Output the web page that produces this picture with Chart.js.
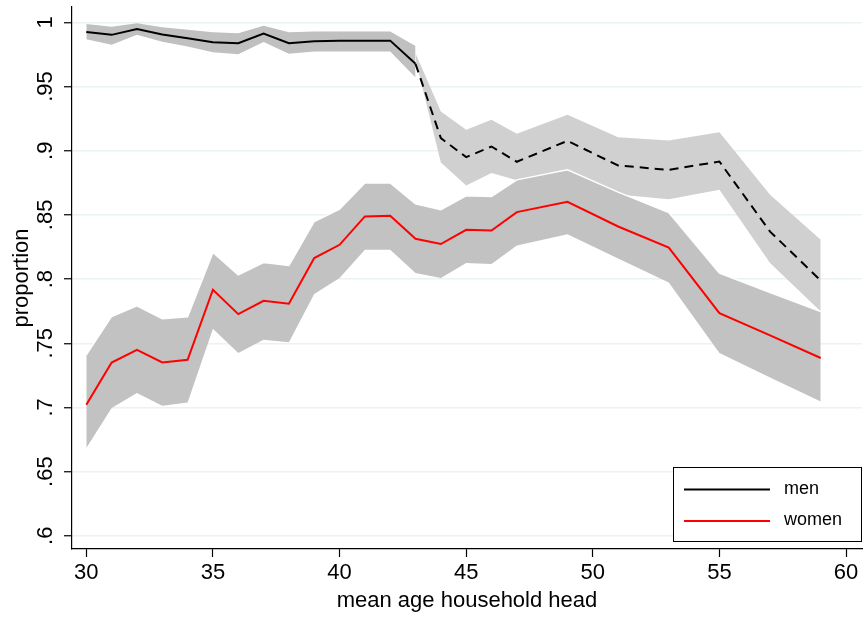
<!DOCTYPE html>
<html>
<head>
<meta charset="utf-8">
<script src="https://cdn.jsdelivr.net/npm/chart.js@4.4.1/dist/chart.umd.min.js"></script>
<style>
  body { margin: 0; background: #fff; }
  canvas { display: block; }
</style>
</head>
<body>
<canvas id="chart" width="864" height="617"></canvas>
<script>
// edades (eje x)
const ages = [30, 31, 32, 33, 34, 35, 36, 37, 38, 39, 40, 41, 42, 43, 44, 45, 46, 47, 49, 51, 53, 55, 57, 59];

// proporcion hombres / mujeres
const men = [0.9926, 0.9903, 0.9949, 0.9905, 0.9877, 0.9846, 0.9838, 0.9913, 0.9838, 0.9853, 0.9858, 0.9858, 0.9858, 0.9677,
             0.9098, 0.8950, 0.9033, 0.8914, 0.9077, 0.8885, 0.8851, 0.8916, 0.8370, 0.7989];
const women = [0.7021, 0.7350, 0.7449, 0.7350, 0.7371, 0.7917, 0.7727, 0.7831, 0.7808, 0.8164, 0.8267, 0.8488, 0.8493, 0.8314,
               0.8273, 0.8384, 0.8379, 0.8522, 0.8602, 0.8410, 0.8246, 0.7735, 0.7561, 0.7385];

// intervalos de confianza - hombres, tramo continuo (30-43)
const menHiSolid = [0.9988, 0.9967, 0.9994, 0.9963, 0.9942, 0.9924, 0.9916, 0.9973, 0.9924, 0.9929, 0.9929, 0.9929, 0.9929, 0.9817];
const menLoSolid = [0.9869, 0.9825, 0.9903, 0.9850, 0.9812, 0.9768, 0.9752, 0.9848, 0.9755, 0.9773, 0.9773, 0.9773, 0.9773, 0.9570];
// hombres, tramo discontinuo (43-59)
const menHiDash = [0.9760, 0.9305, 0.9163, 0.9241, 0.9132, 0.9280, 0.9106, 0.9080, 0.9145, 0.8657, 0.8306];
const menLoDash = [0.9710, 0.8908, 0.8729, 0.8826, 0.8770, 0.8840, 0.8660, 0.8623, 0.8696, 0.8125, 0.7748];
// mujeres
const womenHi = [0.7410, 0.7709, 0.7792, 0.7691, 0.7707, 0.8207, 0.8033, 0.8129, 0.8106, 0.8449, 0.8545, 0.8748, 0.8750, 0.8586,
                 0.8540, 0.8649, 0.8643, 0.8773, 0.8851, 0.8678, 0.8519, 0.8047, 0.7896, 0.7748];
const womenLo = [0.6684, 0.6995, 0.7112, 0.7013, 0.7039, 0.7613, 0.7424, 0.7527, 0.7508, 0.7883, 0.8008, 0.8228, 0.8228, 0.8047,
                 0.8008, 0.8125, 0.8117, 0.8262, 0.8350, 0.8160, 0.7974, 0.7424, 0.7234, 0.7047];

const xTicks = [30, 35, 40, 45, 50, 55, 60];
const yTicks = [0.6, 0.65, 0.7, 0.75, 0.8, 0.85, 0.9, 0.95, 1];

const FONT = '"Liberation Sans", Arial, sans-serif';
const agesSolid = ages.slice(0, 14);
const agesDash = ages.slice(13);

function pts(xs, ys) {
    return xs.map(function(x, i) { return { x: x, y: ys[i] }; });
}

function band(xs, ys, order) {
    return { label: '', data: pts(xs, ys), borderWidth: 0, pointRadius: 0, fill: false, order: order };
}

// las etiquetas no deben empujar el area del grafico
function noPadding(s) {
    s.paddingTop = 0;
    s.paddingBottom = 0;
    s.paddingLeft = 0;
    s.paddingRight = 0;
}

// leyenda dentro del area del grafico, abajo a la derecha
const legendBox = {
    id: 'legendBox',
    afterDraw: function(chart) {
        const ctx = chart.ctx;
        const area = chart.chartArea;
        const items = chart.data.datasets.filter(function(d) { return d.label; });
        const w = 188, h = 74;
        const x0 = Math.round(area.right - w - 1);
        const y0 = Math.round(area.bottom - h - 8);
        ctx.save();
        ctx.fillStyle = '#fff';
        ctx.fillRect(x0, y0, w, h);
        ctx.strokeStyle = '#000';
        ctx.lineWidth = 1;
        ctx.strokeRect(x0 + 0.5, y0 + 0.5, w, h);
        items.forEach(function(d, i) {
            const y = y0 + 22.5 + i * 31.5;
            ctx.strokeStyle = d.borderColor;
            ctx.lineWidth = 2;
            ctx.setLineDash([]);
            ctx.beginPath();
            ctx.moveTo(x0 + 11, y);
            ctx.lineTo(x0 + 97, y);
            ctx.stroke();
            ctx.fillStyle = '#000';
            ctx.font = '18px ' + FONT;
            ctx.textBaseline = 'middle';
            ctx.fillText(d.label, x0 + 111, y - 0.5);
        });
        ctx.restore();
    }
};

const datasets = [
    band(agesSolid, menHiSolid, 20),
    Object.assign(band(agesSolid, menLoSolid, 19), { fill: { target: 0 }, backgroundColor: 'rgb(192,192,192)' }),
    band(agesDash, menHiDash, 18),
    Object.assign(band(agesDash, menLoDash, 17), { fill: { target: 2 }, backgroundColor: 'rgb(208,208,208)' }),
    Object.assign(band(ages, womenLo, 16), { fill: { target: 5 }, backgroundColor: 'rgb(194,194,194)' }),
    Object.assign(band(ages, womenHi, 15), { borderWidth: 1.5, borderColor: '#fff' }),
    {
        label: 'men',
        data: pts(ages, men),
        borderColor: '#000',
        borderWidth: 2,
        pointRadius: 0,
        fill: false,
        order: 2,
        segment: {
            borderDash: function(c) { return c.p0.parsed.x >= 43 ? [9, 6] : undefined; }
        }
    },
    {
        label: 'women',
        data: pts(ages, women),
        borderColor: 'rgb(255,0,0)',
        borderWidth: 2,
        pointRadius: 0,
        fill: false,
        order: 1
    }
];

new Chart(document.getElementById('chart'), {
    type: 'line',
    data: { datasets: datasets },
    plugins: [legendBox],
    options: {
        responsive: false,
        animation: false,
        devicePixelRatio: 1,
        layout: { padding: { left: 0, top: 7, right: 2, bottom: 0 } },
        plugins: {
            legend: { display: false },
            tooltip: { enabled: false }
        },
        scales: {
            x: {
                type: 'linear',
                min: 29.435,
                max: 60.63,
                afterBuildTicks: function(s) { s.ticks = xTicks.map(function(v) { return { value: v }; }); },
                afterFit: function(s) { s.height = 68; noPadding(s); },
                ticks: { color: '#000', font: { family: FONT, size: 22 }, padding: 3, maxRotation: 0, autoSkip: false },
                grid: { drawOnChartArea: false, drawTicks: true, tickLength: 8, tickColor: '#000', tickWidth: 1.2 },
                border: { display: true, color: '#000', width: 1.2 },
                title: {
                    display: true,
                    text: 'mean age household head',
                    color: '#000',
                    font: { family: FONT, size: 22 },
                    padding: { top: 0, bottom: 3 }
                }
            },
            y: {
                min: 0.5897,
                max: 1.012,
                afterBuildTicks: function(s) { s.ticks = yTicks.map(function(v) { return { value: v }; }); },
                afterFit: function(s) { s.width = 72; noPadding(s); },
                ticks: {
                    color: '#000',
                    font: { family: FONT, size: 22 },
                    minRotation: 90,
                    maxRotation: 90,
                    crossAlign: 'center',
                    padding: 3,
                    autoSkip: false,
                    callback: function(v) { return v === 1 ? '1' : String(v).replace(/^0/, ''); }
                },
                grid: { color: 'rgb(234,242,243)', lineWidth: 1.5, tickLength: 8, tickColor: '#000', tickWidth: 1.2 },
                border: { display: true, color: '#000', width: 1.2 },
                title: {
                    display: true,
                    text: 'proportion',
                    color: '#000',
                    font: { family: FONT, size: 22 },
                    padding: { top: 9, bottom: 0 }
                }
            }
        }
    }
});
</script>
</body>
</html>
